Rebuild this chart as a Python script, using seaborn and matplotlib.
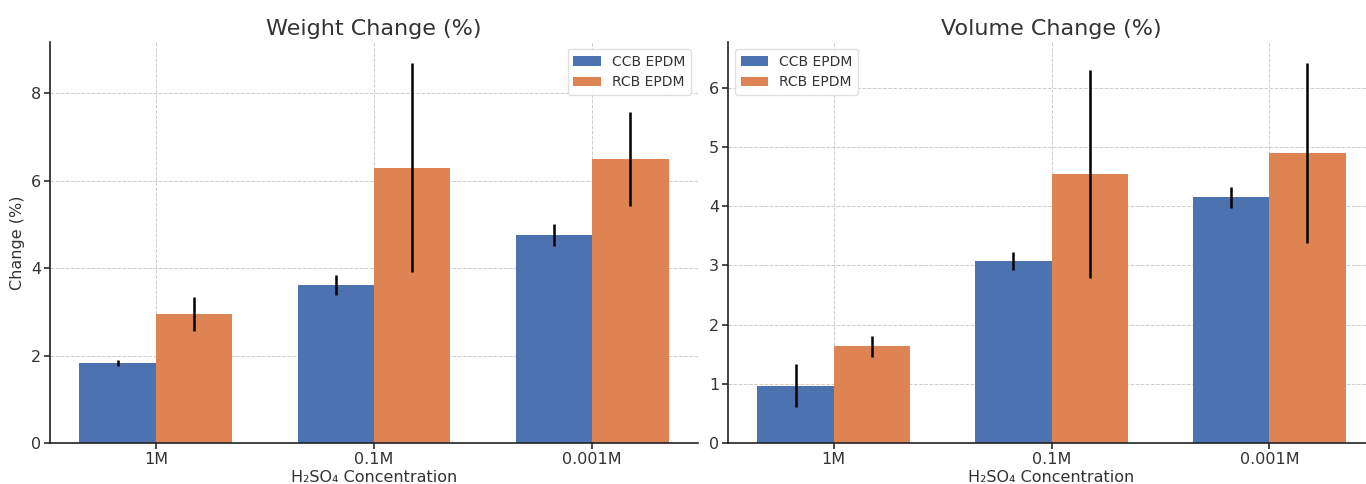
import numpy as np
import pandas as pd
import matplotlib
matplotlib.use("Agg")
import matplotlib.pyplot as plt
import seaborn as sns

concentrations = ["1M", "0.1M", "0.001M"]
materials = ["CCB EPDM", "RCB EPDM"]

weight_ccb = [1.82, 3.62, 4.75]
weight_rcb = [2.95, 6.30, 6.50]
weight_ccb_err = [0.07, 0.23, 0.25]
weight_rcb_err = [0.38, 2.40, 1.07]

volume_ccb = [0.97, 3.07, 4.15]
volume_rcb = [1.63, 4.54, 4.90]
volume_ccb_err = [0.37, 0.15, 0.18]
volume_rcb_err = [0.18, 1.76, 1.52]

sns.set_theme(style="ticks", palette="deep")
plt.rcParams["font.family"] = ["DejaVu Sans"]
plt.rcParams["text.color"] = "#333333"
plt.rcParams["axes.labelcolor"] = "#333333"
plt.rcParams["xtick.color"] = "#333333"
plt.rcParams["ytick.color"] = "#333333"

fig = plt.figure(figsize=(13.66, 4.84), dpi=100)
ax_w = fig.add_axes([0.0366, 0.0847, 0.4744, 0.8285])
ax_v = fig.add_axes([0.533, 0.0847, 0.4736, 0.8285])


def long_frame(ccb, rcb):
    return pd.DataFrame({
        "Concentration": concentrations * 2,
        "Material": [materials[0]] * 3 + [materials[1]] * 3,
        "Change": list(ccb) + list(rcb),
    })


def draw(ax, ccb, rcb, ccb_err, rcb_err, title, legend_loc, ylim, ylabel):
    df = long_frame(ccb, rcb)
    sns.barplot(data=df, x="Concentration", y="Change", hue="Material",
                order=concentrations, hue_order=materials, width=0.7,
                saturation=1, errorbar=None, linewidth=0, ax=ax, zorder=2)
    errs = list(ccb_err) + list(rcb_err)
    vals = list(ccb) + list(rcb)
    bars = [p for p in ax.patches if p.get_height() > 0][:6]
    centers = [p.get_x() + p.get_width() / 2 for p in bars]
    ax.errorbar(centers, vals, yerr=errs, fmt="none", ecolor="black",
                elinewidth=1.8, capsize=0, zorder=3)
    ax.set_title(title, fontsize=16, pad=5)
    ax.set_xlabel("H₂SO₄ Concentration", fontsize=11.5, labelpad=2)
    ax.set_ylabel(ylabel, fontsize=11.5, labelpad=4)
    ax.set_ylim(*ylim)
    ax.tick_params(labelsize=11.5, length=4, pad=2.5)
    ax.grid(True, linestyle="--", linewidth=0.7, color="#cccccc", zorder=0)
    ax.set_axisbelow(True)
    for s in ["top", "right"]:
        ax.spines[s].set_visible(False)
    for s in ["left", "bottom"]:
        ax.spines[s].set_color("#222222")
        ax.spines[s].set_linewidth(1.2)
    leg = ax.legend(loc=legend_loc, fontsize=10, title=None, frameon=True,
                    fancybox=True, framealpha=0.9)
    leg.get_frame().set_edgecolor("#dddddd")


draw(ax_w, weight_ccb, weight_rcb, weight_ccb_err, weight_rcb_err,
     "Weight Change (%)", "upper right", (0, 9.17), "Change (%)")
draw(ax_v, volume_ccb, volume_rcb, volume_ccb_err, volume_rcb_err,
     "Volume Change (%)", "upper left", (0, 6.77), "")
ax_v.set_xlim(-0.485, 2.485)
ax_w.set_xlim(-0.485, 2.485)

fig.savefig("out.png", dpi=100)
